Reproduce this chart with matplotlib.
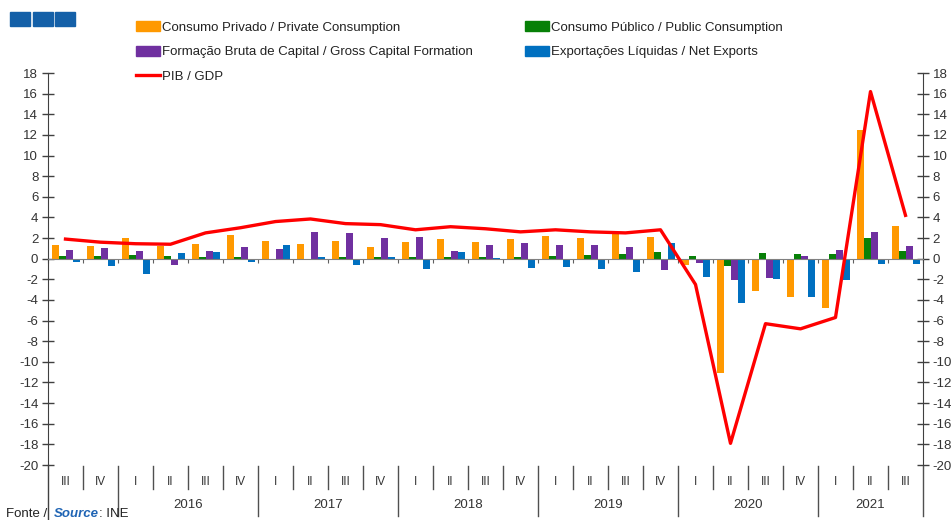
import numpy as np
import matplotlib.pyplot as plt
from matplotlib.patches import Rectangle
from matplotlib.lines import Line2D
from matplotlib.transforms import blended_transform_factory

plt.rcParams['font.family'] = ['Liberation Sans', 'DejaVu Sans']
plt.rcParams['axes.unicode_minus'] = False

######################################################################
######### Data
######################################################################
quarters = ['III', 'IV',
            'I', 'II', 'III', 'IV',
            'I', 'II', 'III', 'IV',
            'I', 'II', 'III', 'IV',
            'I', 'II', 'III', 'IV',
            'I', 'II', 'III', 'IV',
            'I', 'II', 'III']
years = ['2016', '2017', '2018', '2019', '2020', '2021']

priv = [1.35, 1.2, 2.0, 1.25, 1.4, 2.3, 1.7, 1.45, 1.7, 1.1, 1.6, 1.9, 1.6,
        1.9, 2.2, 2.0, 2.4, 2.1, -0.6, -11.1, -3.1, -3.7, -4.8, 12.5, 3.2]
pub = [0.3, 0.3, 0.4, 0.3, 0.2, 0.2, -0.15, -0.13, 0.2, 0.2, 0.2, 0.2, 0.2,
       0.2, 0.3, 0.4, 0.5, 0.65, 0.25, -0.7, 0.55, 0.5, 0.5, 2.05, 0.75]
gcf = [0.8, 1.0, 0.7, -0.6, 0.7, 1.1, 0.95, 2.6, 2.45, 2.0, 2.1, 0.7, 1.3,
       1.5, 1.3, 1.3, 1.1, -1.1, -0.45, -2.1, -1.85, 0.25, 0.85, 2.6, 1.2]
netx = [-0.33, -0.75, -1.45, 0.55, 0.65, -0.35, 1.35, 0.2, -0.65, 0.2, -1.0,
        0.6, 0.1, -0.9, -0.8, -1.0, -1.3, 1.5, -1.8, -4.3, -1.95, -3.7, -2.1,
        -0.5, -0.55]
gdp = [1.9, 1.6, 1.45, 1.4, 2.5, 3.0, 3.6, 3.85, 3.4, 3.3, 2.8, 3.1, 2.9,
       2.6, 2.8, 2.6, 2.5, 2.8, -2.5, -17.9, -6.3, -6.8, -5.7, 16.2, 4.2]

labels = ['Consumo Privado / Private Consumption',
          'Consumo Público / Public Consumption',
          'Formação Bruta de Capital / Gross Capital Formation',
          'Exportações Líquidas / Net Exports',
          'PIB / GDP']
colors = ['#FF9900', '#078007', '#7030A0', '#0070C0', '#FF0000']

######################################################################
fig = plt.figure(figsize=(9.51, 5.20), dpi=100)
ax = fig.add_axes([48/951, 1 - 465/520, 875/951, 392/520])

n = len(quarters)
x = np.arange(n)
w = 0.2
series = [priv, pub, gcf, netx]
for k, vals in enumerate(series):
    ax.bar(x + (k - 1.5) * w, vals, width=w, color=colors[k], zorder=2)
ax.plot(x, gdp, color=colors[4], lw=2.4, zorder=3)

ax.set_xlim(-0.5, n - 0.5)
ax.set_ylim(-20, 18)
ax.set_yticks(np.arange(-20, 19, 2))
ax.tick_params(axis='y', direction='inout', length=8, width=1, color='#404040',
               labelsize=9.5, labelcolor='#333333', right=True, labelright=True, pad=3)

# zero line acts as the category axis
ax.spines['top'].set_visible(False)
ax.spines['bottom'].set_position(('data', 0))
ax.spines['bottom'].set_color('#808080')
ax.set_xticks(np.arange(-0.5, n, 1.0))
ax.set_xticklabels([])
ax.tick_params(axis='x', direction='out', length=3, color='#606060')
for s in ['left', 'right']:
    ax.spines[s].set_color('#404040')

# category labels and separators below the plot
tr = blended_transform_factory(ax.transData, ax.transAxes)
for i, q in enumerate(quarters):
    ax.text(i, -0.043, q, transform=tr, ha='center', va='center',
            fontsize=8.5, color='#333333', clip_on=False)
year_edges = [1.5, 5.5, 9.5, 13.5, 17.5, 21.5, 24.5]
for b in np.arange(0.5, n - 1, 1.0):
    if b in year_edges:
        continue
    ax.add_line(Line2D([b, b], [-0.003, -0.062], transform=tr, color='#505050',
                       lw=1, clip_on=False))
for b in year_edges:
    ax.add_line(Line2D([b, b], [-0.003, -0.13], transform=tr, color='#505050',
                       lw=1, clip_on=False))
ax.add_line(Line2D([-0.5, -0.5], [0, -0.15], transform=tr, color='#404040',
                   lw=1, clip_on=False))
for j, yr in enumerate(years):
    mid = (year_edges[j] + year_edges[j + 1]) / 2
    ax.text(mid, -0.103, yr, transform=tr, ha='center', va='center',
            fontsize=9.5, color='#333333', clip_on=False)

# legend
handles = [Rectangle((0, 0), 1, 1, color=c) for c in colors[:4]]
handles.append(Line2D([], [], color=colors[4], lw=2.4))
order = [0, 2, 4, 1, 3]
fig.legend([handles[i] for i in order], [labels[i] for i in order],
           loc='upper left', bbox_to_anchor=(136/951, 1 - 21/520), ncol=2,
           frameon=False, fontsize=9.5, handlelength=1.8, handleheight=0.8,
           handletextpad=0.15, labelspacing=0.9, columnspacing=4.0,
           borderpad=0, borderaxespad=0, labelcolor='#222222')

# blue squares at top left
for k in range(3):
    fig.patches.append(Rectangle(((10 + 22.5 * k) / 951, 1 - 26/520), 20/951, 14/520,
                                 transform=fig.transFigure, color='#1460A8'))

# source
fig.text(6/951, 1 - 514/520, 'Fonte /', fontsize=9.5, color='#222222', va='center')
fig.text(54/951, 1 - 514/520, 'Source', fontsize=9.5, color='#1F64B4',
         fontweight='bold', style='italic', va='center')
fig.text(99/951, 1 - 514/520, ': INE', fontsize=9.5, color='#222222', va='center')

plt.savefig('out.png', dpi=100)
